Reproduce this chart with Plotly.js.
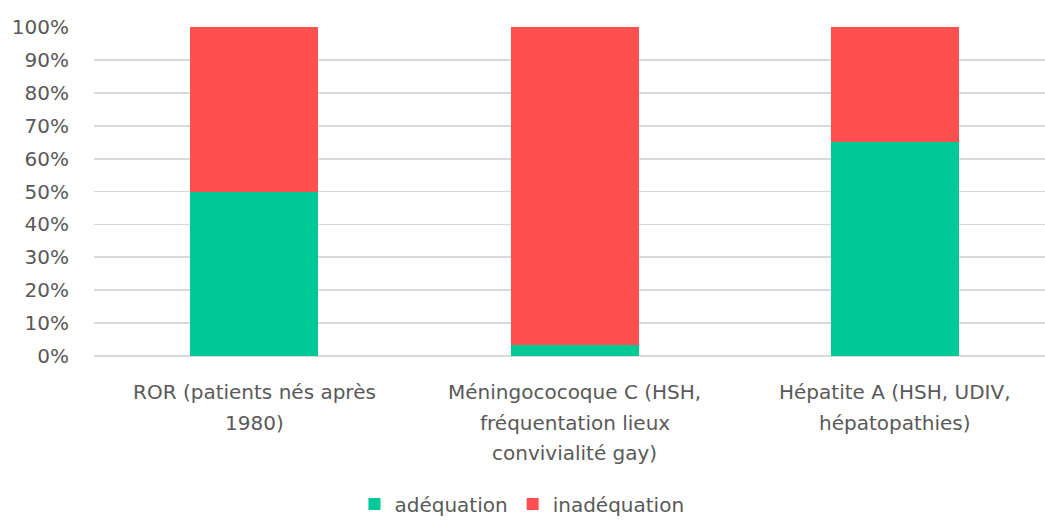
<!DOCTYPE html>
<html>
<head>
<meta charset="utf-8">
<script src="https://cdn.plot.ly/plotly-3.0.1.min.js"></script>
<style>html,body{margin:0;padding:0;background:#fff;}#chart{width:1045px;height:522px;}</style>
</head>
<body>
<div id="chart"></div>
<script>
// Data
const categories = ["ROR", "Méningococoque C", "Hépatite A"];
const categoryLabelLines = [
  ["ROR (patients nés après", "1980)"],
  ["Méningococoque C (HSH,", "fréquentation lieux", "convivialité gay)"],
  ["Hépatite A (HSH, UDIV,", "hépatopathies)"]
];
const adequation = [0.50, 0.034, 0.65];
const inadequation = [0.50, 0.966, 0.35];
const seriesNames = ["adéquation", "inadéquation"];
const yTickVals = [0, 0.1, 0.2, 0.3, 0.4, 0.5, 0.6, 0.7, 0.8, 0.9, 1.0];

const FONT = "DejaVu Sans, sans-serif";
const GRAY = "#595959";

const traces = [
  {type: "bar", name: seriesNames[0], x: categories, y: adequation,
   marker: {color: "#00C896", line: {width: 0}}, hoverinfo: "y"},
  {type: "bar", name: seriesNames[1], x: categories, y: inadequation,
   marker: {color: "#FF5050", line: {width: 0}}, hoverinfo: "y"}
];

const annotations = [];
categoryLabelLines.forEach((lines, ci) => {
  lines.forEach((ln, li) => {
    annotations.push({
      x: categories[ci], xref: "x", y: 0, yref: "paper",
      yanchor: "middle", xanchor: "center",
      yshift: -36 - li * 30.5,
      text: ln, showarrow: false,
      font: {family: FONT, size: 20, color: GRAY}
    });
  });
});

const layout = {
  width: 1045, height: 522,
  margin: {l: 94, r: 0, t: 27, b: 166, autoexpand: false},
  paper_bgcolor: "#fff", plot_bgcolor: "#fff",
  barmode: "stack", bargap: 0.6,
  showlegend: true,
  legend: {orientation: "h", x: 0.45, xanchor: "center", y: -0.45, yanchor: "middle",
           font: {family: FONT, size: 20, color: GRAY}, traceorder: "normal",
           tracegroupgap: 0},
  xaxis: {range: [-0.5, 2.467], showticklabels: false, showgrid: false, zeroline: false,
          showline: false, ticks: "", fixedrange: true},
  yaxis: {range: [0, 1], tickvals: yTickVals, tickformat: ".0%",
          showgrid: true, gridcolor: "#d9d9d9", gridwidth: 1.8,
          zeroline: true, zerolinecolor: "#d9d9d9", zerolinewidth: 1.8,
          showline: false, ticks: "", ticklabelstandoff: 24,
          tickfont: {family: FONT, size: 20, color: GRAY}, fixedrange: true},
  annotations: annotations,
  font: {family: FONT, color: GRAY}
};

Plotly.newPlot("chart", traces, layout, {displayModeBar: false, staticPlot: true});
</script>
</body>
</html>
